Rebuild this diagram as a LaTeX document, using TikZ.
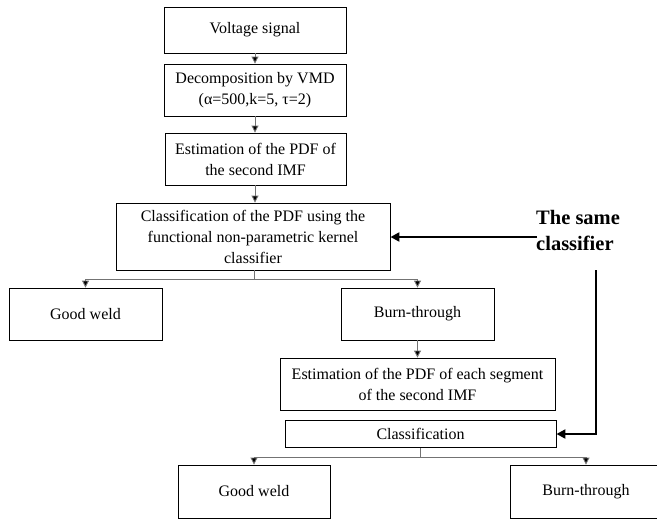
\documentclass[tikz,border=0pt]{standalone}
\usepackage{fontspec}
\setmainfont{Liberation Serif}
\usetikzlibrary{arrows.meta}
\begin{document}
\begin{tikzpicture}[x=1pt,y=-1pt,
  box/.style={draw=black,line width=0.9pt,fill=white,align=center,inner sep=2pt,font=\fontsize{16}{21}\selectfont},
  conn/.style={draw=black!55,line width=0.9pt},
  tip/.style={-{Triangle[length=7pt,width=7pt,fill=black]},conn},
  thick arrow/.style={draw=black,line width=2.8pt,-{Triangle[length=9pt,width=9pt]}}]
\useasboundingbox (0,0) rectangle (657,520);
\clip (0,0) rectangle (657,520);
\node[box,minimum width=182pt,minimum height=46pt] (b1) at (255,30) {Voltage signal};
\node[box,minimum width=182pt,minimum height=52pt] (b2) at (255,90) {Decomposition by VMD\\(α=500,k=5, τ=2)};
\node[box,minimum width=181pt,minimum height=52pt] (b3) at (255.5,159) {Estimation of the PDF of\\the second IMF};
\node[box,minimum width=274pt,minimum height=67pt] (b4) at (253,236.5) {Classification of the PDF using the\\functional non-parametric kernel\\classifier};
\node[box,minimum width=153pt,minimum height=52pt] (b5) at (85.5,314) {Good weld};
\node[box,minimum width=153pt,minimum height=52pt] (b6) at (417.5,314) {Burn-through};
\node[box,minimum width=275pt,minimum height=52pt] (b7) at (417.5,384) {Estimation of the PDF of each segment\\of the second IMF};
\node[box,minimum width=271pt,minimum height=27pt] (b8) at (420.5,434) {Classification};
\node[box,minimum width=152pt,minimum height=53pt] (b9) at (254,491.5) {Good weld};
\node[box,minimum width=152pt,minimum height=53pt] (b10) at (586,491.5) {Burn-through};
\node[font=\fontsize{20.5}{26}\selectfont\bfseries,align=left,anchor=west,inner sep=0pt] (lbl) at (536,230) {The same\\classifier};
\coordinate (s1) at (255,0);
\draw[tip] (b1.south -| s1) -- (b2.north -| s1);
\draw[tip] (b2.south -| s1) -- (b3.north -| s1);
\draw[tip] (b3.south -| s1) -- (b4.north -| s1);
\coordinate (j1) at (254,279);
\draw[conn] (b4.south -| j1) -- (j1);
\draw[tip] (j1) -| (b5.north);
\draw[tip] (j1) -| (b6.north);
\draw[tip] (b6.south) -- (b7.north);
\coordinate (j2) at (420.5,457);
\draw[conn] (b8.south) -- (j2);
\draw[tip] (j2) -| (b9.north);
\draw[tip] (j2) -| (b10.north);
\coordinate (h1) at (537,237);
\draw[thick arrow] (h1) -- (h1 -| b4.east);
\coordinate (v1) at (596,270);
\draw[thick arrow] (v1) |- (b8.east);
\end{tikzpicture}
\end{document}
